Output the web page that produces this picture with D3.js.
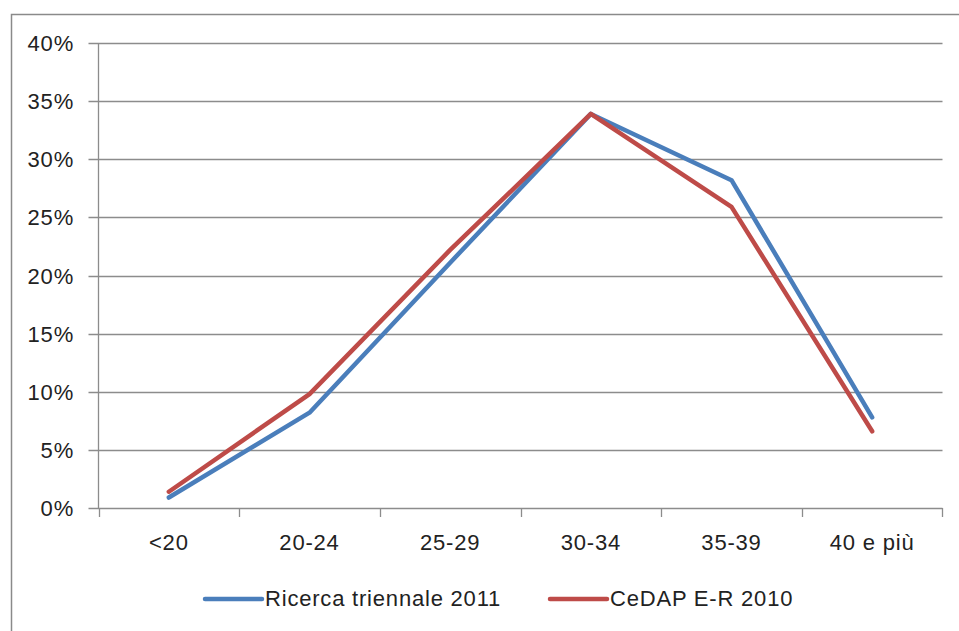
<!DOCTYPE html>
<html>
<head>
<meta charset="utf-8">
<script src="https://cdn.jsdelivr.net/npm/d3@7"></script>
<style>
  html, body { margin: 0; padding: 0; background: #fff; }
  svg { display: block; }
  text { font-family: "Liberation Sans", Arial, sans-serif; fill: #222; letter-spacing: 0.8px; }
</style>
</head>
<body>
<svg id="chart" width="959" height="631"></svg>
<script>
// Age classes of mothers at delivery
const categories = ["<20", "20-24", "25-29", "30-34", "35-39", "40 e più"];
const seriesNames = ["Ricerca triennale 2011", "CeDAP E-R 2010"];
const ricercaValues = [0.009, 0.082, 0.211, 0.339, 0.282, 0.078];
const cedapValues = [0.014, 0.098, 0.222, 0.339, 0.259, 0.066];
const yTicks = [0, 0.05, 0.10, 0.15, 0.20, 0.25, 0.30, 0.35, 0.40];
const seriesColors = ["#4a7ebb", "#be4b48"];

const svg = d3.select("#chart");

// outer chart frame
svg.append("rect")
  .attr("x", 11.5).attr("y", 14.5)
  .attr("width", 980).attr("height", 640)
  .attr("fill", "none").attr("stroke", "#8a8a8a").attr("stroke-width", 1.5);

const plotLeft = 98.5, plotRight = 942.5, plotTop = 43, plotBottom = 508;

const x = d3.scaleBand().domain(categories).range([plotLeft, plotRight]).padding(0);
const y = d3.scaleLinear().domain([0, 0.4]).range([plotBottom, plotTop]);

// horizontal gridlines (with outward tick stubs)
svg.append("g")
  .selectAll("line")
  .data(yTicks)
  .join("line")
  .attr("x1", plotLeft - 10).attr("x2", plotRight)
  .attr("y1", d => Math.round(y(d)) + 0.5).attr("y2", d => Math.round(y(d)) + 0.5)
  .attr("stroke", "#8c8c8c").attr("stroke-width", 1.3);

// vertical value axis line
svg.append("line")
  .attr("x1", plotLeft).attr("x2", plotLeft)
  .attr("y1", plotTop).attr("y2", plotBottom)
  .attr("stroke", "#8c8c8c").attr("stroke-width", 1.3);

// y tick labels
svg.append("g")
  .selectAll("text")
  .data(yTicks)
  .join("text")
  .attr("x", 74)
  .attr("y", d => y(d) + 8)
  .attr("text-anchor", "end")
  .attr("font-size", 22)
  .text(d => d3.format(".0%")(d));

// category tick marks at band edges
const edges = categories.map(c => x(c)).concat([x(categories[categories.length - 1]) + x.bandwidth()]);
svg.append("g")
  .selectAll("line")
  .data(edges)
  .join("line")
  .attr("x1", d => Math.round(d) + 0.5).attr("x2", d => Math.round(d) + 0.5)
  .attr("y1", plotBottom).attr("y2", plotBottom + 9)
  .attr("stroke", "#8c8c8c").attr("stroke-width", 1.3);

// category labels
svg.append("g")
  .selectAll("text")
  .data(categories)
  .join("text")
  .attr("x", d => x(d) + x.bandwidth() / 2)
  .attr("y", 550)
  .attr("text-anchor", "middle")
  .attr("font-size", 22)
  .text(d => d);

// series lines
const line = d3.line()
  .x((d, i) => x(categories[i]) + x.bandwidth() / 2)
  .y(d => y(d));

[ricercaValues, cedapValues].forEach((vals, k) => {
  svg.append("path")
    .datum(vals)
    .attr("d", line)
    .attr("fill", "none")
    .attr("stroke", seriesColors[k])
    .attr("stroke-width", 4.5)
    .attr("stroke-linejoin", "round")
    .attr("stroke-linecap", "round");
});

// legend
const legendX = [205, 550];
const legend = svg.append("g");
seriesNames.forEach((name, k) => {
  legend.append("line")
    .attr("x1", legendX[k]).attr("x2", legendX[k] + 57)
    .attr("y1", 599).attr("y2", 599)
    .attr("stroke", seriesColors[k]).attr("stroke-width", 4.5)
    .attr("stroke-linecap", "round");
  legend.append("text")
    .attr("x", legendX[k] + 60)
    .attr("y", 606)
    .attr("font-size", 22)
    .text(name);
});
</script>
</body>
</html>
